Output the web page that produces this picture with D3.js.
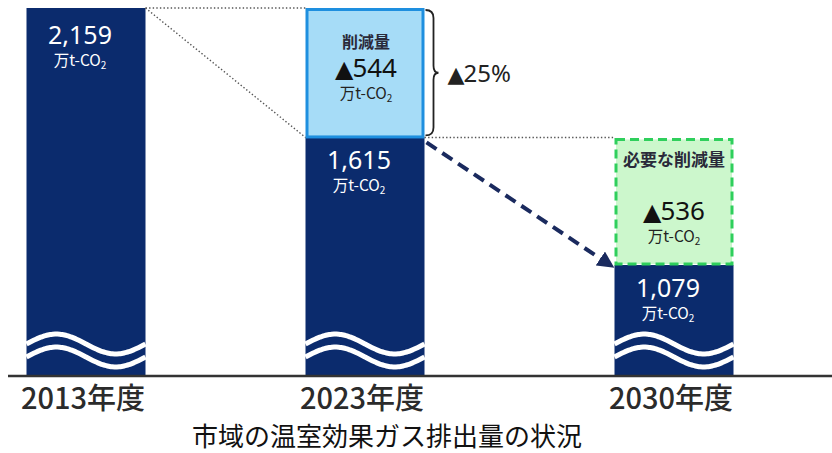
<!DOCTYPE html>
<html><head><meta charset="utf-8">
<script src="https://cdn.jsdelivr.net/npm/d3@7/dist/d3.min.js"></script>
<style>
html,body{margin:0;padding:0;background:#fff;}
svg{display:block;font-family:"Noto Sans CJK JP","Noto Sans",sans-serif;}
</style></head>
<body>
<svg id="c" width="832" height="453"></svg>
<script>
const categories = ["2013年度", "2023年度", "2030年度"];
const emissions = [2159, 1615, 1079];
const reductions = [0, 544, 536];
const reductionTitles = ["", "削減量", "必要な削減量"];
const unitLabel = "万t-CO";
const percentValue = 25;
const title = "市域の温室効果ガス排出量の状況";

const svg = d3.select("#c");
const navy = "#0b2b6d";
const barW = 119;
const axisY = 376;

const x = d3.scaleOrdinal().domain(categories).range([86, 365, 674]);
const y = d3.scaleLinear().domain([1079, 2159]).range([265, 8]);

const fmt = d3.format(",");

// defs
const defs = svg.append("defs");
defs.append("marker").attr("id","arr").attr("viewBox","0 0 10 10")
  .attr("refX",8).attr("refY",5).attr("markerWidth",4.2).attr("markerHeight",4.2)
  .attr("orient","auto").attr("markerUnits","strokeWidth")
  .append("path").attr("d","M0,0 L10,5 L0,10 z").attr("fill","#1a2a5e");
defs.append("clipPath").attr("id","clip").append("rect")
  .attr("x",0).attr("y",0).attr("width",832).attr("height",axisY);

// bars
const g = svg.append("g").attr("clip-path","url(#clip)");
g.selectAll("rect.bar").data(categories).join("rect").attr("class","bar")
  .attr("x", d => x(d) - barW/2)
  .attr("y", (d,i) => y(emissions[i]))
  .attr("width", barW)
  .attr("height", (d,i) => axisY - y(emissions[i]) + 2)
  .attr("fill", navy);

// waves
function wavePath(cx, yc){
  const pts = d3.range(0, 1.0001, 0.02).map(t => [cx - barW/2 + t*barW, yc - 10*Math.sin(2*Math.PI*t)]);
  return d3.line().curve(d3.curveBasis)(pts);
}
categories.forEach(c => {
  [344, 357].forEach(yc => {
    svg.append("path").attr("d", wavePath(x(c), yc))
      .attr("fill","none").attr("stroke","#fff").attr("stroke-width",5);
  });
});

// reduction boxes
{
  const c = categories[1];
  const top = y(emissions[0]), bot = y(emissions[1]);
  svg.append("rect").attr("x", x(c)-barW/2+1.5).attr("y", top+1.5)
    .attr("width", barW-3).attr("height", bot-top-2)
    .attr("fill","#a6dcf7").attr("stroke","#1e8fdf").attr("stroke-width",3);
}
{
  const c = categories[2];
  const top = y(emissions[1]), bot = y(emissions[2]);
  svg.append("rect").attr("x", x(c)-barW/2+1.5).attr("y", top+2)
    .attr("width", barW-3).attr("height", bot-top-3)
    .attr("fill","#ccf7cc").attr("stroke","#2fcf5c").attr("stroke-width",3)
    .attr("stroke-dasharray","9,5");
}

// dotted guides
const dot = (x1,y1,x2,y2) => svg.append("line").attr("x1",x1).attr("y1",y1).attr("x2",x2).attr("y2",y2)
  .attr("stroke","#555").attr("stroke-width",1.4).attr("stroke-dasharray","1.4,2.2");
dot(x(categories[0])+barW/2, y(emissions[0]), x(categories[1])-barW/2, y(emissions[0]));
dot(x(categories[0])+barW/2, y(emissions[0]), x(categories[1])-barW/2, y(emissions[1]));
dot(x(categories[1])+barW/2, y(emissions[1]), x(categories[2])-barW/2, y(emissions[1]));

// dashed arrow
svg.append("line")
  .attr("x1", x(categories[1])+barW/2+2).attr("y1", y(emissions[1])+5)
  .attr("x2", x(categories[2])-barW/2-3).attr("y2", y(emissions[2])+1)
  .attr("stroke","#1a2a5e").attr("stroke-width",4).attr("stroke-dasharray","12,7")
  .attr("marker-end","url(#arr)");

// triangle-prefixed text helper
function triText(sel, xx, yy, size, color, label, anchor){
  const t = sel.append("text").attr("x", xx).attr("y", yy).attr("text-anchor", anchor)
    .attr("font-size", size).attr("fill", color).attr("font-family","'Noto Sans',sans-serif");
  t.append("tspan").attr("font-family","'DejaVu Sans',sans-serif").attr("font-size", size*0.92).text("▲");
  t.append("tspan").attr("dx", -1).text(label);
  return t;
}

// brace
{
  const bx = x(categories[1])+barW/2+1;
  const t = y(emissions[0])+2, b = y(emissions[1])-2, m = (t+b)/2;
  const p = d3.path();
  p.moveTo(bx, t);
  p.quadraticCurveTo(bx+8, t, bx+8, t+8);
  p.lineTo(bx+8, m-7);
  p.quadraticCurveTo(bx+8, m, bx+13, m);
  p.quadraticCurveTo(bx+8, m, bx+8, m+7);
  p.lineTo(bx+8, b-8);
  p.quadraticCurveTo(bx+8, b, bx, b);
  svg.append("path").attr("d", p.toString()).attr("fill","none").attr("stroke","#222").attr("stroke-width",1.8);
  triText(svg, bx+22, m+9, 24, "#222", percentValue + "%", "start");
}

// unit label helper
function unit(sel, cx, yy, color){
  const t = sel.append("text").attr("x", cx).attr("y", yy).attr("text-anchor","middle")
    .attr("font-size",15.5).attr("fill",color);
  t.append("tspan").text(unitLabel);
  t.append("tspan").attr("font-size",10).attr("dy",3).text("2");
}

// value labels in dark bars
categories.forEach((c,i) => {
  const cx = x(c) - 6;
  const yy = i===0 ? 44 : y(emissions[i]) + 32;
  svg.append("text").attr("x", cx).attr("y", yy).attr("text-anchor","middle")
    .attr("font-size",25).attr("fill","#fff")
    .attr("font-family","'Noto Sans',sans-serif").text(fmt(emissions[i]));
  unit(svg, cx, yy+22, "#fff");
});

// reduction labels
{
  const cx = x(categories[1]) + 1;
  const top = y(emissions[0]);
  svg.append("text").attr("x", cx).attr("y", top+40).attr("text-anchor","middle")
    .attr("font-size",16).attr("font-weight","bold").attr("fill","#2a2a3a").text(reductionTitles[1]);
  triText(svg, cx, top+69, 26, "#111", String(reductions[1]), "middle");
  unit(svg, cx, top+91, "#222");
}
{
  const cx = x(categories[2]);
  const top = y(emissions[1]);
  svg.append("text").attr("x", cx).attr("y", top+29).attr("text-anchor","middle")
    .attr("font-size",17).attr("font-weight","bold").attr("fill","#2a2a3a").text(reductionTitles[2]);
  triText(svg, cx, top+83, 26, "#111", String(reductions[2]), "middle");
  unit(svg, cx, top+105, "#222");
}

// axis
svg.append("line").attr("x1",8).attr("x2",832).attr("y1",axisY).attr("y2",axisY)
  .attr("stroke","#333").attr("stroke-width",2.5);

svg.selectAll("text.cat").data(categories).join("text").attr("class","cat")
  .attr("x", d => x(d) - 3).attr("y", 409).attr("text-anchor","middle")
  .attr("font-size",29).attr("font-weight",500).attr("fill","#2b2b2b").text(d => d);

svg.append("text").attr("x", 387).attr("y", 446).attr("text-anchor","middle")
  .attr("font-size",26).attr("fill","#111").text(title);
</script>
</body></html>
